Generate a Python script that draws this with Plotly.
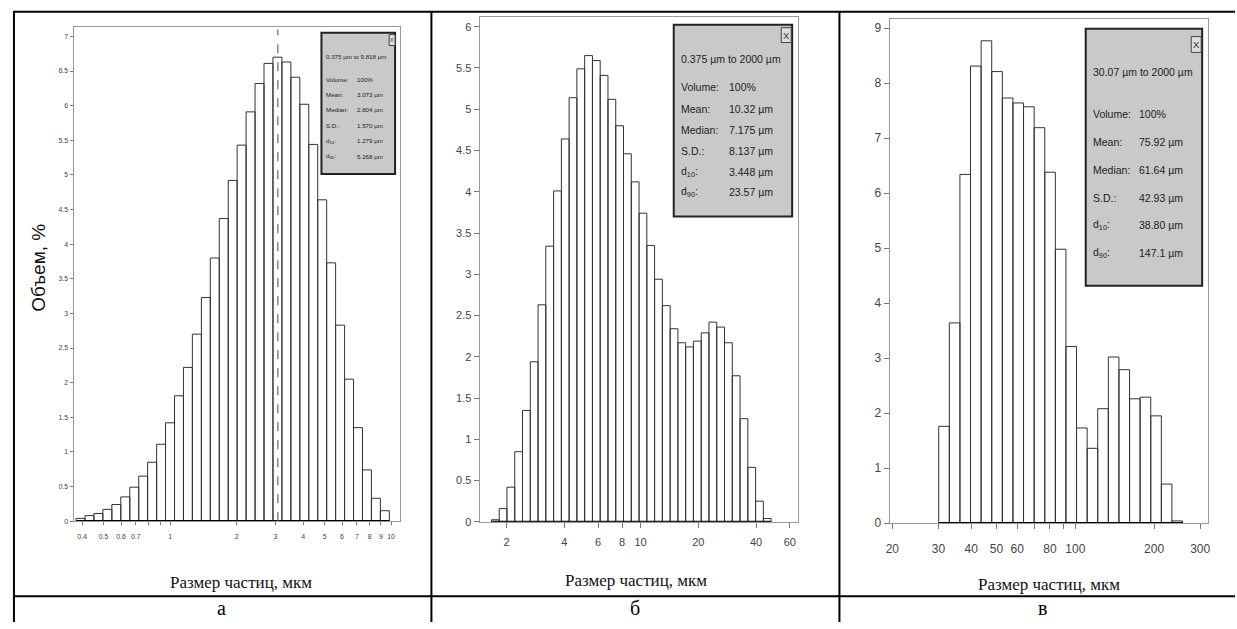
import plotly.graph_objects as go

# ---------------- DATA ----------------
# Coulter LS channel edges, µm
EDGES = [0.375, 0.412, 0.452, 0.496, 0.545, 0.598, 0.657, 0.721, 0.791, 0.869,
         0.953, 1.047, 1.149, 1.261, 1.385, 1.520, 1.669, 1.832, 2.010, 2.207,
         2.423, 2.660, 2.920, 3.205, 3.519, 3.863, 4.240, 4.655, 5.110, 5.610,
         6.158, 6.760, 7.421, 8.147, 8.943, 9.818, 10.78, 11.83, 12.99, 14.26,
         15.65, 17.18, 18.86, 20.71, 22.73, 24.95, 27.39, 30.07, 33.01, 36.24,
         39.78, 43.67, 47.94, 52.63, 57.77, 63.42, 69.62, 76.43, 83.90, 92.10,
         101.1, 111.0, 121.8, 133.7, 146.8, 161.2, 176.8, 194.2, 213.2, 234.0,
         256.9, 282.1]

# panel а: channels starting at 0.375 µm
START_A = 0
VOL_A = [0.04, 0.08, 0.11, 0.17, 0.24, 0.35, 0.49, 0.65, 0.85, 1.11,
         1.42, 1.81, 2.22, 2.70, 3.23, 3.80, 4.37, 4.92, 5.43, 5.91,
         6.32, 6.61, 6.70, 6.63, 6.41, 6.02, 5.44, 4.64, 3.73, 2.83,
         2.05, 1.35, 0.74, 0.33, 0.15]
MEAN_A = 3.073

# panel б: channels starting at 1.669 µm
START_B = 16
VOL_B = [0.025, 0.16, 0.42, 0.85, 1.35, 1.94, 2.63, 3.34, 4.01, 4.64,
         5.14, 5.49, 5.65, 5.59, 5.41, 5.12, 4.80, 4.46, 4.12, 3.74,
         3.35, 2.94, 2.62, 2.34, 2.17, 2.12, 2.19, 2.29, 2.42, 2.36,
         2.17, 1.77, 1.25, 0.66, 0.25, 0.04]

# panel в: channels starting at 30.07 µm
START_C = 47
VOL_C = [1.76, 3.64, 6.34, 8.31, 8.77, 8.21, 7.73, 7.64, 7.57, 7.19,
         6.38, 4.98, 3.21, 1.73, 1.36, 2.08, 3.02, 2.79, 2.26, 2.29,
         1.95, 0.71, 0.04]

# tick labels
XT_A = [0.4, 0.5, 0.6, 0.7, 1, 2, 3, 4, 5, 6, 7, 8, 9, 10]
XL_A = ["0.4", "0.5", "0.6", "0.7", "1", "2", "3", "4", "5", "6", "7", "8", "9", "10"]
XM_A = [0.8, 0.9]
YT_A = [0, 0.5, 1, 1.5, 2, 2.5, 3, 3.5, 4, 4.5, 5, 5.5, 6, 6.5, 7]
YL_A = ["0", "0.5", "1", "1.5", "2", "2.5", "3", "3.5", "4", "4.5", "5", "5.5", "6", "6.5", "7"]
XT_B = [2, 4, 6, 8, 10, 20, 40, 60]
XL_B = ["2", "4", "6", "8", "10", "20", "40", "60"]
XM_B = []
YT_B = [0, 0.5, 1, 1.5, 2, 2.5, 3, 3.5, 4, 4.5, 5, 5.5, 6]
YL_B = ["0", "0.5", "1", "1.5", "2", "2.5", "3", "3.5", "4", "4.5", "5", "5.5", "6"]
XT_C = [20, 30, 40, 50, 60, 80, 100, 200, 300]
XL_C = ["20", "30", "40", "50", "60", "80", "100", "200", "300"]
XM_C = [70, 90]
YT_C = [0, 1, 2, 3, 4, 5, 6, 7, 8, 9]
YL_C = ["0", "1", "2", "3", "4", "5", "6", "7", "8", "9"]

INFO_A = ["0.375 µm to 9.818 µm", ["Volume:", "100%"], ["Mean:", "3.073 µm"],
          ["Median:", "2.804 µm"], ["S.D.:", "1.570 µm"],
          ["d<sub>10</sub>:", "1.279 µm"], ["d<sub>90</sub>:", "5.268 µm"]]
INFO_B = ["0.375 µm to 2000 µm", ["Volume:", "100%"], ["Mean:", "10.32 µm"],
          ["Median:", "7.175 µm"], ["S.D.:", "8.137 µm"],
          ["d<sub>10</sub>:", "3.448 µm"], ["d<sub>90</sub>:", "23.57 µm"]]
INFO_C = ["30.07 µm to 2000 µm", ["Volume:", "100%"], ["Mean:", "75.92 µm"],
          ["Median:", "61.64 µm"], ["S.D.:", "42.93 µm"],
          ["d<sub>10</sub>:", "38.80 µm"], ["d<sub>90</sub>:", "147.1 µm"]]

XTITLE = "Размер частиц, мкм"
YTITLE = "Объем, %"
CAPTIONS = ["а", "б", "в"]

# ---------------- LAYOUT HELPERS ----------------
W, H = 1237, 629
def px(X):
    return X / W
def py(Y):
    return 1 - Y / H

NARROW = "Liberation Sans Narrow, Liberation Sans, Arial, sans-serif"
SERIF = "Liberation Serif, Times New Roman, serif"

fig = go.Figure()

def bars(start, vals, xa, ya):
    xs, ys = [], []
    for i, v in enumerate(vals):
        x0, x1 = EDGES[start + i], EDGES[start + i + 1]
        xs += [x0, x0, x1, x1, x0, None]
        ys += [0, v, v, 0, 0, None]
    fig.add_trace(go.Scatter(x=xs, y=ys, mode="lines", fill="toself",
                             fillcolor="white", line=dict(color="#333", width=1),
                             xaxis=xa, yaxis=ya, hoverinfo="skip", showlegend=False))
    fig.add_trace(go.Scatter(x=[EDGES[start], EDGES[start + len(vals)]], y=[0, 0],
                             mode="lines", line=dict(color="black", width=2.2),
                             xaxis=xa, yaxis=ya, hoverinfo="skip", showlegend=False))

bars(START_A, VOL_A, "x", "y")
bars(START_B, VOL_B, "x2", "y2")
bars(START_C, VOL_C, "x3", "y3")

fig.add_trace(go.Scatter(x=[MEAN_A, MEAN_A], y=[0, 7.1], mode="lines",
                         line=dict(color="#666", width=1.2, dash="dash"),
                         xaxis="x", yaxis="y", hoverinfo="skip", showlegend=False))

def axes(n, xd, yd, xr, yr, xt, xl, xm, yt, yl, fs, standoff, ticklen):
    sfx = "" if n == 1 else str(n)
    common = dict(showline=True, linecolor="#999", linewidth=1.3, mirror=True,
                  showgrid=False, zeroline=False, ticks="outside", ticklen=ticklen,
                  tickcolor="#777", tickfont=dict(family=NARROW, size=fs, color="#444"))
    xdict = dict(domain=[px(xd[0]), px(xd[1])], type="log", range=xr,
                 anchor="y" + sfx, tickvals=xt, ticktext=xl,
                 ticklabelstandoff=standoff, **common)
    if xm:
        xdict["minor"] = dict(tickvals=xm, ticks="outside", ticklen=ticklen,
                              tickcolor="#777", showgrid=False)
    fig.update_layout(**{
        "xaxis" + sfx: xdict,
        "yaxis" + sfx: dict(domain=[py(yd[1]), py(yd[0])], range=yr,
                            anchor="x" + sfx, tickvals=yt, ticktext=yl, **common),
    })

axes(1, (70, 398), (27, 527), [-0.4365, 1.0406], [0, 7.14], XT_A, XL_A, XM_A, YT_A, YL_A, 7, 5, 3)
axes(2, (478, 798), (17, 527.7), [0.161, 1.8215], [0, 6.12], XT_B, XL_B, XM_B, YT_B, YL_B, 11, 5, 5)
axes(3, (890, 1210), (19, 529), [1.2908, 2.5075], [0, 9.17], XT_C, XL_C, XM_C, YT_C, YL_C, 12, 9, 5)

shapes = []
annotations = []

def line(x0, y0, x1, y1, w=2, c="black"):
    shapes.append(dict(type="line", xref="paper", yref="paper",
                       x0=px(x0), y0=py(y0), x1=px(x1), y1=py(y1),
                       line=dict(color=c, width=w)))

# table grid
line(9, 12, 1237, 12)
line(10, 12, 10, 629)
line(429.5, 12, 429.5, 629)
line(839.5, 12, 839.5, 629)
line(9, 603, 1237, 603)

def info(box, close, title_xy, rows_y, vx, info, fs):
    shapes.append(dict(type="rect", xref="paper", yref="paper",
                       x0=px(box[0]), x1=px(box[2]), y0=py(box[3]), y1=py(box[1]),
                       fillcolor="#c9c9c9", line=dict(color="#222", width=2)))
    shapes.append(dict(type="rect", xref="paper", yref="paper",
                       x0=px(close[0]), x1=px(close[2]), y0=py(close[3]), y1=py(close[1]),
                       fillcolor="#dedede", line=dict(color="#444", width=1)))
    annotations.append(dict(xref="paper", yref="paper", x=px((close[0] + close[2]) / 2),
                            y=py((close[1] + close[3]) / 2), text="X", showarrow=False,
                            font=dict(family=NARROW, size=max(fs - 1, 5), color="#333"),
                            xanchor="center", yanchor="middle", borderpad=0))
    annotations.append(dict(xref="paper", yref="paper", x=px(title_xy[0]), y=py(title_xy[1]),
                            text=info[0], showarrow=False, xanchor="left", yanchor="middle",
                            font=dict(family=NARROW, size=fs, color="#222")))
    for (lab, val), yy in zip(info[1:], rows_y):
        annotations.append(dict(xref="paper", yref="paper", x=px(title_xy[0]), y=py(yy),
                                text=lab, showarrow=False, xanchor="left", yanchor="middle",
                                font=dict(family=NARROW, size=fs, color="#222")))
        annotations.append(dict(xref="paper", yref="paper", x=px(vx), y=py(yy),
                                text=val, showarrow=False, xanchor="left", yanchor="middle",
                                font=dict(family=NARROW, size=fs, color="#222")))

info((319, 33, 393, 176), (387, 35, 393, 46), (322, 57),
     [80, 95.7, 111, 126.7, 142.3, 158], 353, INFO_A, 6.2)
info((673, 25, 792, 219), (781, 28, 791, 43), (678, 60),
     [88.3, 110, 131, 152.3, 173.7, 194.3], 727, INFO_B, 10.5)
info((1087, 29, 1204, 289), (1193, 37, 1203, 53), (1092, 73),
     [115, 143.3, 171.7, 200, 227.7, 255.7], 1139, INFO_C, 10.5)

# axis titles
for cx, cy in [(238, 589), (635, 587), (1050, 591)]:
    annotations.append(dict(xref="paper", yref="paper", x=px(cx), y=py(cy), text=XTITLE,
                            showarrow=False, xanchor="center", yanchor="middle",
                            font=dict(family=SERIF, size=17, color="#111")))
annotations.append(dict(xref="paper", yref="paper", x=px(35), y=py(271), text=YTITLE,
                        showarrow=False, textangle=-90, xanchor="center", yanchor="middle",
                        font=dict(family="Liberation Sans, Arial, sans-serif", size=19,
                                  color="#111")))
# captions
for cx, t in zip([219, 634, 1044], CAPTIONS):
    annotations.append(dict(xref="paper", yref="paper", x=px(cx), y=py(615), text=t,
                            showarrow=False, xanchor="center", yanchor="middle",
                            font=dict(family=SERIF, size=20, color="black")))

fig.update_layout(width=W, height=H, autosize=False,
                  margin=dict(l=0, r=0, t=0, b=0),
                  paper_bgcolor="white", plot_bgcolor="white",
                  shapes=shapes, annotations=annotations, showlegend=False)

# strip page margins and let the figure fill the whole viewport height
PAGE_JS = (
    "var fix='margin:0;padding:0;overflow:hidden;';"
    "document.documentElement.style.cssText=fix;"
    "document.body.style.cssText=fix;"
    "var gd=document.getElementById('{plot_id}');"
    "var vh=document.documentElement.clientHeight||window.innerHeight;"
    "if(gd && vh>0 && Math.abs(vh-629)>1){gd.style.height=vh+'px';"
    "Plotly.relayout(gd,{height:vh});}"
)
fig.write_html("out.html", config={"displayModeBar": False, "responsive": False},
               post_script=PAGE_JS)
